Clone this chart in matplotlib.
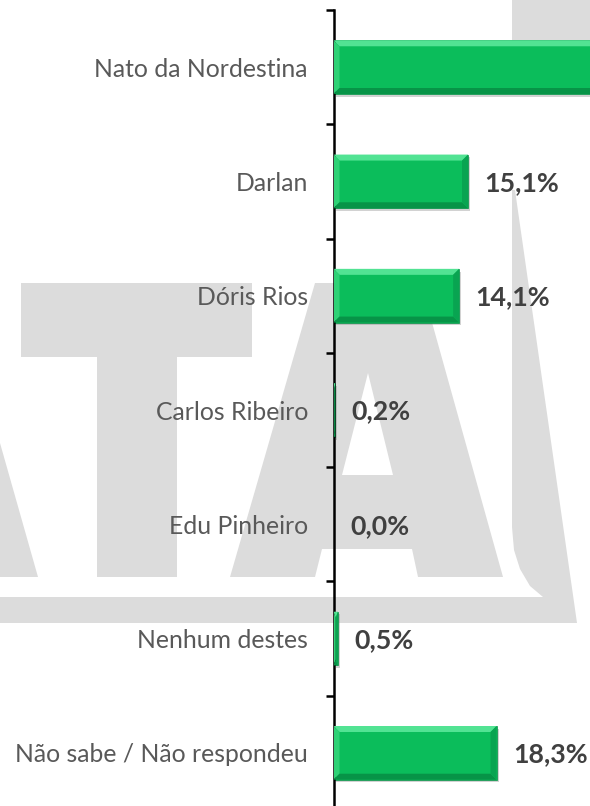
import matplotlib

matplotlib.use("Agg")

import matplotlib.patheffects as pe
import matplotlib.pyplot as plt
from matplotlib.patches import Polygon

# data
categories = [
    "Nato da Nordestina",
    "Darlan",
    "Dóris Rios",
    "Carlos Ribeiro",
    "Edu Pinheiro",
    "Nenhum destes",
    "Não sabe / Não respondeu",
]
values = [51.8, 15.1, 14.1, 0.2, 0.0, 0.5, 18.3]

W, H = 590, 806
GREEN = "#0BBD5B"
WATERMARK = "#DCDCDC"

fig = plt.figure(figsize=(W / 100, H / 100), dpi=100)
fig.patch.set_facecolor("white")

# background logo watermark, drawn in pixel space
bg = fig.add_axes([0, 0, 1, 1], zorder=0)
bg.set_xlim(0, W)
bg.set_ylim(H, 0)
bg.axis("off")

shapes = [
    [(21, 283), (252, 283), (252, 357), (177, 357), (177, 577), (97, 577), (97, 357), (21, 357)],
    [(0, 443), (38, 577), (0, 577)],
    [(230, 577), (315, 283), (421, 283), (503, 577)],
    [(0, 597), (543, 597), (530, 586), (520, 569), (514, 550), (512, 527),
     (512, 190), (515, 190), (577, 623), (0, 623)],
    [(512, 0), (590, 0), (590, 60), (512, 60)],
]
for pts in shapes:
    bg.add_patch(Polygon(pts, closed=True, facecolor=WATERMARK, edgecolor="none"))
for pts in [[(368, 373), (342, 475), (393, 475)],
            [(322, 549), (412, 549), (418, 577), (315, 577)]]:
    bg.add_patch(Polygon(pts, closed=True, facecolor="white", edgecolor="none"))

# main chart
axis_x = 333.5
px_per_pct = 8.91
ax = fig.add_axes([axis_x / W, -4 / H, 1 - axis_x / W, 800 / H], zorder=1)
ax.patch.set_alpha(0)

pos = list(range(len(categories)))
bar_h = 0.47
bars = ax.barh(pos, values, height=bar_h, color=GREEN, edgecolor="#0A8F47",
               linewidth=0.5, zorder=2)
for b in bars:
    b.set_path_effects([pe.SimplePatchShadow(offset=(1.5, -2), shadow_rgbFace="#808080",
                                             alpha=0.35), pe.Normal()])

ax.set_xlim(0, (W - axis_x) / px_per_pct)
ax.set_ylim(len(categories) - 0.5, -0.5)

# bevel on each bar
bx = 6 / px_per_pct
by = 6 / 114.3
for b in bars:
    x0, w = b.get_x(), b.get_width()
    y0, h = b.get_y(), b.get_height()
    if w <= 0:
        continue
    dx = min(bx, w / 2)
    x1, y1 = x0 + w, y0 + h
    # y axis is inverted: y0 is the top edge on screen
    bevels = [
        ([(x0, y0), (x1, y0), (x1 - dx, y0 + by), (x0 + dx, y0 + by)], "#52E393"),
        ([(x0, y0), (x0 + dx, y0 + by), (x0 + dx, y1 - by), (x0, y1)], "#2FD276"),
        ([(x0, y1), (x0 + dx, y1 - by), (x1 - dx, y1 - by), (x1, y1)], "#079447"),
        ([(x1, y0), (x1, y1), (x1 - dx, y1 - by), (x1 - dx, y0 + by)], "#09A451"),
    ]
    for pts, c in bevels:
        ax.add_patch(Polygon(pts, closed=True, facecolor=c, edgecolor="none", zorder=3))

# data labels
for i, v in enumerate(values):
    txt = f"{v:.1f}".replace(".", ",") + "%"
    ax.annotate(txt, xy=(v, i), xytext=(11.9, -1), textcoords="offset points",
                ha="left", va="center", fontsize=19.3, fontweight="bold",
                family="Lato", color="#404040", zorder=4)

# axes styling
for side in ["top", "right", "bottom"]:
    ax.spines[side].set_visible(False)
ax.spines["left"].set_linewidth(1.8)
ax.spines["left"].set_color("black")
ax.xaxis.set_visible(False)

ax.set_yticks([p - 0.5 for p in pos] + [len(pos) - 0.5])
ax.set_yticklabels([])
ax.tick_params(axis="y", which="major", length=5.8, width=1.8, color="black")
ax.set_yticks(pos, labels=categories, minor=True)
ax.tick_params(axis="y", which="minor", length=0, pad=18.4)
for lbl in ax.get_yticklabels(minor=True):
    lbl.set_fontfamily("Lato")
    lbl.set_fontsize(17.8)
    lbl.set_color("#595959")

fig.savefig("out.png", dpi=100)
